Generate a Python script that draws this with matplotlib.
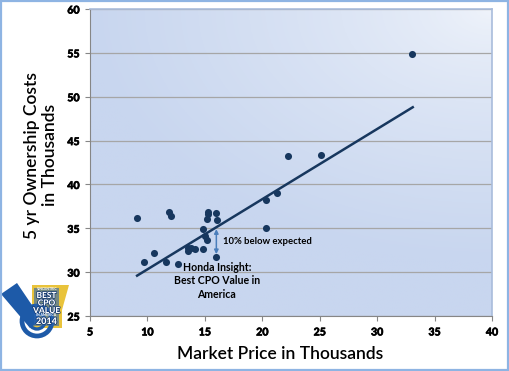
import numpy as np
import matplotlib
matplotlib.use("Agg")
import matplotlib.pyplot as plt
from matplotlib.patches import Polygon, Circle, Rectangle
import matplotlib.patheffects as pe

plt.rcParams["font.family"] = ["Lato", "DejaVu Sans"]

# market price (thousands) vs 5 yr ownership cost (thousands)
price = [9.1, 9.7, 10.6, 11.6, 11.85, 12.05, 12.65, 13.5, 13.55, 13.8, 14.1,
         14.85, 14.85, 15.0, 15.15, 15.25, 15.3, 15.2, 15.95, 16.1, 16.0,
         20.3, 20.3, 21.3, 22.2, 25.1, 33.0]
cost = [36.2, 31.1, 32.2, 31.2, 36.9, 36.4, 30.9, 32.4, 32.7, 32.8, 32.6,
        32.6, 34.9, 34.1, 33.7, 36.6, 36.8, 36.1, 36.7, 35.9, 31.7,
        38.2, 35.0, 39.0, 43.2, 43.3, 54.9]
trend_x = [9.1, 33.1]
trend_y = [29.6, 48.8]
insight_x = 16.0
expected_y = 34.9
insight_y = 32.05
x_ticks = [5, 10, 15, 20, 25, 30, 35, 40]
y_ticks = [25, 30, 35, 40, 45, 50, 55, 60]

W, H = 510, 371
fig = plt.figure(figsize=(W / 100, H / 100), dpi=100)
fig.patches.append(Rectangle((0.002, 0.003), 0.995, 0.994, transform=fig.transFigure,
                             fill=False, edgecolor="#8eb4e3", lw=1.6))

ax = fig.add_axes([90 / W, 1 - 316 / H, 402 / W, 307 / H])
ax.set_xlim(5, 40)
ax.set_ylim(25, 60)

# gradient background (darker lower-left, lighter top-right)
gx, gy = np.meshgrid(np.linspace(0, 1, 200), np.linspace(0, 1, 200))
d = np.clip(np.sqrt((1 - gx) ** 2 * 0.8 + (1 - gy) ** 2 * 1.2) / 0.9, 0, 1) ** 0.7
c0 = np.array([0xf0, 0xf4, 0xfb]) / 255
c1 = np.array([0xc8, 0xd6, 0xef]) / 255
img = c0 + (c1 - c0) * d[..., None]
ax.imshow(img, extent=[0, 1, 0, 1], transform=ax.transAxes, origin="lower",
          aspect="auto", zorder=0)

ax.set_yticks(y_ticks)
ax.set_xticks(x_ticks)
ax.yaxis.grid(True, color="#a6a6a6", lw=0.9)
ax.set_axisbelow(True)
for s in ["left", "bottom"]:
    ax.spines[s].set_color("#868686")
for s in ["top", "right"]:
    ax.spines[s].set_color("#a9bcdb")
    ax.spines[s].set_linewidth(1.2)
ax.tick_params(axis="both", length=3.5, width=0.8, color="#868686", pad=4,
               labelsize=7.6)
thick = [pe.withStroke(linewidth=0.5, foreground="black")]
for t in ax.xaxis.get_major_ticks() + ax.yaxis.get_major_ticks():
    t.label1.set_fontweight("bold")
    t.label1.set_path_effects(thick)

ax.plot(trend_x, trend_y, color="#17375e", lw=1.8, zorder=3)
ax.scatter(price, cost, s=26, color="#17375e", zorder=4, linewidths=0)

ax.annotate("", xy=(insight_x, insight_y), xytext=(insight_x, expected_y),
            arrowprops=dict(arrowstyle="<|-|>", color="#4a7ebb", lw=1.1,
                            mutation_scale=6, shrinkA=0, shrinkB=0), zorder=5)
ax.text(16.55, 33.45, "10% below expected", fontsize=6.8, fontweight="bold",
        ha="left", va="center", zorder=6)
ax.text(16.05, 29.0, "Honda Insight:\nBest CPO Value in\nAmerica", fontsize=7.6,
        fontweight="bold", ha="center", va="center", linespacing=1.25, zorder=6)

fig.text(280 / W, 1 - 354 / H, "Market Price in Thousands", fontsize=12.5,
         fontweight="semibold", ha="center", va="center")
fig.text(41 / W, 1 - 155 / H, "5 yr Ownership Costs\nin Thousands", fontsize=12.5,
         fontweight="semibold", ha="center", va="center", rotation=90,
         linespacing=1.1)

# badge
bx = fig.add_axes([0, 1 - 342 / H, 75 / W, 62 / H])
bx.set_xlim(0, 75)
bx.set_ylim(62, 0)
bx.axis("off")
blue = "#1d5aa8"
bx.add_patch(Polygon([(32, 5), (69, 5), (62, 30), (62, 48), (32, 48)],
                     closed=True, facecolor="#e9c33b", edgecolor="none"))
bx.add_patch(Polygon([(1, 14), (17, 3), (42, 40), (30, 48)], closed=True,
                     facecolor=blue, edgecolor="none"))
bx.add_patch(Circle((37, 41), 15, fill=False, edgecolor=blue, lw=3.4))
bx.add_patch(Circle((37, 41), 8, fill=False, edgecolor=blue, lw=2.4))
bx.add_patch(Circle((37, 41), 3, facecolor=blue, edgecolor="none"))
bx.add_patch(Rectangle((34, 8), 25, 38, facecolor="#2a63b0", edgecolor="none", alpha=0.6))
stroke = [pe.withStroke(linewidth=1.0, foreground="#0f3570")]
bx.text(46.5, 9.5, "VINCENTRIC", fontsize=2.5, color="white", ha="center", va="center",
        fontweight="bold")
for txt, yy in [("BEST", 15.5), ("CPO", 23), ("VALUE", 30.5)]:
    bx.text(46.5, yy, txt, fontsize=6, color="white", ha="center", va="center",
            fontweight="black", path_effects=stroke)
bx.text(46.5, 35.5, "IN AMERICA", fontsize=2.5, color="white", ha="center", va="center",
        fontweight="bold")
bx.text(46.5, 41.5, "2014", fontsize=6.5, color="white", ha="center", va="center",
        fontweight="black", path_effects=stroke)

fig.savefig("out.png", dpi=100)
